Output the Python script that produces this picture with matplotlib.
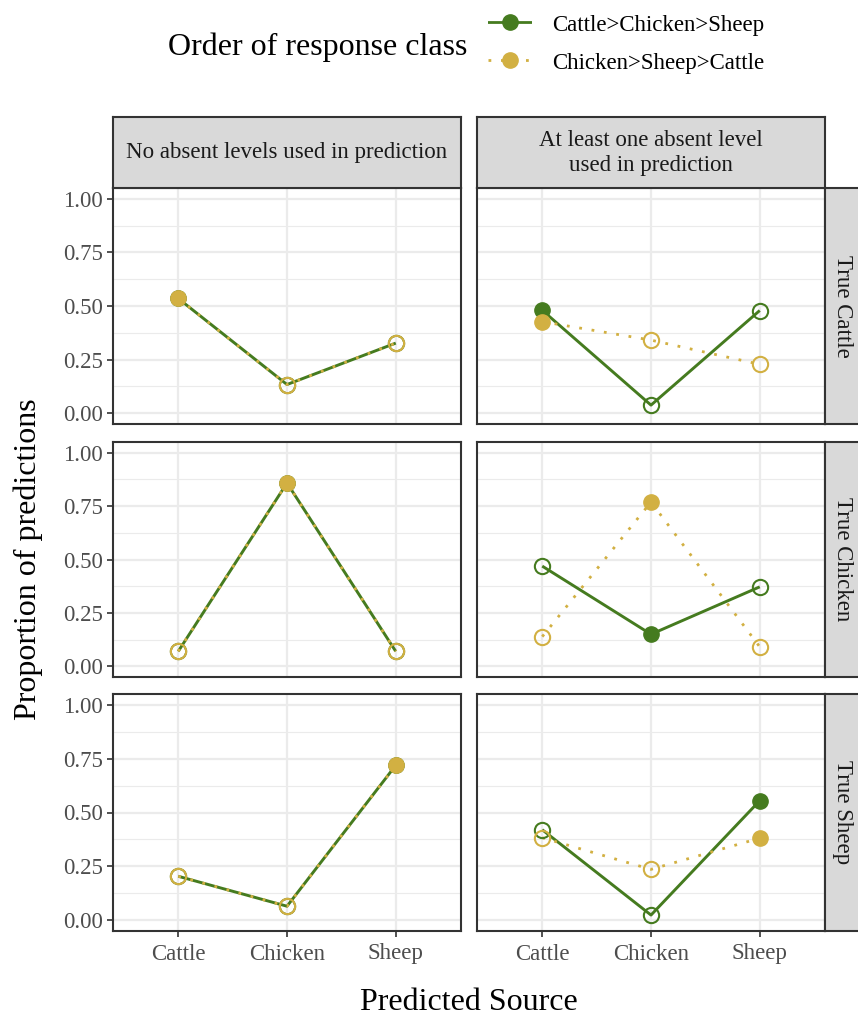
import matplotlib
matplotlib.use("Agg")
import matplotlib.pyplot as plt

plt.rcParams['font.family'] = ['Liberation Serif', 'DejaVu Serif']

# ---------------- data ----------------
categories = ["Cattle", "Chicken", "Sheep"]
true_sources = ["True Cattle", "True Chicken", "True Sheep"]
true_keys = ["Cattle", "Chicken", "Sheep"]
panel_titles = ["No absent levels used in prediction",
                "At least one absent level\nused in prediction"]
series_names = ["Cattle>Chicken>Sheep", "Chicken>Sheep>Cattle"]

# rows = true source, columns = predicted source
no_absent_ccs = [[0.535, 0.134, 0.327],
                 [0.070, 0.858, 0.070],
                 [0.204, 0.065, 0.719]]
no_absent_csc = [[0.535, 0.134, 0.327],
                 [0.070, 0.858, 0.070],
                 [0.204, 0.065, 0.719]]
absent_ccs = [[0.480, 0.038, 0.479],
              [0.469, 0.150, 0.372],
              [0.420, 0.024, 0.555]]
absent_csc = [[0.427, 0.341, 0.228],
              [0.139, 0.769, 0.091],
              [0.383, 0.236, 0.381]]

y_ticks = [0.0, 0.25, 0.5, 0.75, 1.0]
y_ticklabels = ["0.00", "0.25", "0.50", "0.75", "1.00"]

GREEN = "#457B1F"
GOLD = "#D2B042"
BORDER = "#333333"
GRID = "#EBEBEB"
STRIP = "#D9D9D9"
TICKC = "#4D4D4D"

SMALL = 16.5
BIG = 23

W, H = 858, 1017
fig = plt.figure(figsize=(W / 100, H / 100), dpi=100)


def rect(x0, y0, x1, y1):
    return [x0 / W, 1 - y1 / H, (x1 - x0) / W, (y1 - y0) / H]


col_x = [(113, 461), (477, 825)]
row_y = [(188, 424), (442, 677), (694, 931)]
strip_top = (117, 188)
strip_right = (825, 862)

data = {0: (no_absent_ccs, no_absent_csc), 1: (absent_ccs, absent_csc)}
xs = list(range(1, len(categories) + 1))
DOT = (0, (1, 3.5))

for r, (y0, y1) in enumerate(row_y):
    for c, (x0, x1) in enumerate(col_x):
        ax = fig.add_axes(rect(x0, y0, x1, y1))
        ax.set_xlim(0.4, 3.6)
        ax.set_ylim(-0.05, 1.05)
        ax.set_facecolor("white")
        # grid
        for yv in [0.125, 0.375, 0.625, 0.875]:
            ax.axhline(yv, color=GRID, lw=0.8, zorder=0)
        for yv in y_ticks:
            ax.axhline(yv, color=GRID, lw=1.6, zorder=0)
        for xv in xs:
            ax.axvline(xv, color=GRID, lw=1.6, zorder=0)
        ccs, csc = data[c]
        ax.plot(xs, ccs[r], color=GREEN, lw=2.1, ls='-', zorder=2,
                solid_capstyle='butt')
        ax.plot(xs, csc[r], color=GOLD, lw=2.0, ls=DOT, zorder=3,
                dash_capstyle='butt')
        for vals, col, z in [(ccs[r], GREEN, 4), (csc[r], GOLD, 5)]:
            for i, cat in enumerate(categories):
                filled = (cat == true_keys[r])
                if filled:
                    ax.plot(xs[i], vals[i], 'o', ms=11, color=col,
                            mec=col, zorder=z)
                else:
                    ax.plot(xs[i], vals[i], 'o', ms=11, mfc='none',
                            mec=col, mew=1.5, zorder=z)
        for s in ax.spines.values():
            s.set_color(BORDER)
            s.set_linewidth(1.5)
        ax.set_xticks(xs)
        ax.set_yticks(y_ticks)
        ax.tick_params(colors=BORDER, length=4, width=1.2,
                       labelsize=SMALL, labelcolor=TICKC, pad=3)
        ax.tick_params(axis='x', pad=5)
        if c == 0:
            ax.set_yticklabels(y_ticklabels)
        else:
            ax.tick_params(axis='y', left=False, labelleft=False)
        if r == len(row_y) - 1:
            ax.set_xticklabels(categories)
        else:
            ax.tick_params(axis='x', bottom=False, labelbottom=False)

        if c == 1:
            sax = fig.add_axes(rect(strip_right[0], y0, strip_right[1], y1))
            sax.set_facecolor(STRIP)
            sax.set_xticks([]); sax.set_yticks([])
            for s in sax.spines.values():
                s.set_color(BORDER); s.set_linewidth(1.5)
            sax.text(0.47, 0.5, true_sources[r], rotation=-90, ha='center',
                     va='center', fontsize=SMALL, color="#1A1A1A",
                     transform=sax.transAxes)

# top strips
for c, (x0, x1) in enumerate(col_x):
    sax = fig.add_axes(rect(x0, strip_top[0], x1, strip_top[1]))
    sax.set_facecolor(STRIP)
    sax.set_xticks([]); sax.set_yticks([])
    for s in sax.spines.values():
        s.set_color(BORDER); s.set_linewidth(1.5)
    sax.text(0.5, 0.5, panel_titles[c], ha='center', va='center',
             fontsize=SMALL, color="#1A1A1A", linespacing=1.25,
             transform=sax.transAxes)

# axis titles
fig.text(469 / W, 1 - 1010 / H, "Predicted Source", ha='center',
         va='baseline', fontsize=BIG, color='black')
fig.text(28 / W, 1 - 559 / H, "Proportion of predictions", ha='center',
         va='center', rotation=90, fontsize=BIG, color='black')

# legend
fig.text(168 / W, 1 - 47 / H, "Order of response class", ha='left',
         va='center', fontsize=BIG, color='black')
leg_rows = [(22, GREEN, '-'), (60, GOLD, DOT)]
for (yy, col, ls), name in zip(leg_rows, series_names):
    lax = fig.add_axes(rect(488, yy - 10, 532, yy + 10))
    lax.set_xlim(0, 1); lax.set_ylim(0, 1)
    lax.axis('off')
    lax.plot([0, 1], [0.5, 0.5], color=col, lw=2.0, ls=ls)
    lax.plot([0.5], [0.5], 'o', ms=11, color=col)
    fig.text(552 / W, 1 - (yy + 3) / H, name, ha='left', va='center',
             fontsize=SMALL, color='black')

fig.savefig("out.png", dpi=100)
